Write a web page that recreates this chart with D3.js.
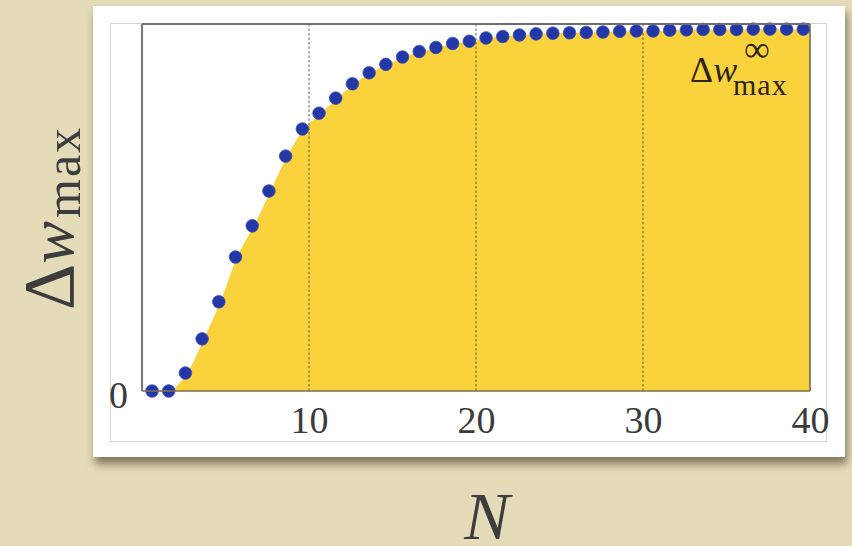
<!DOCTYPE html>
<html>
<head>
<meta charset="utf-8">
<script src="https://cdn.jsdelivr.net/npm/d3@7"></script>
<style>
  html, body { margin: 0; padding: 0; background: #e4dcb9; }
  svg { display: block; }
</style>
</head>
<body>
<svg id="chart" width="852" height="546"></svg>
<script>
// Number of sites N and the maximal gap Δw_max (in units of the large-N limit)
const sizes = [1, 2, 3, 4, 5, 6, 7, 8, 9, 10,
               11, 12, 13, 14, 15, 16, 17, 18, 19, 20,
               21, 22, 23, 24, 25, 26, 27, 28, 29, 30,
               31, 32, 33, 34, 35, 36, 37, 38, 39, 40];
const deltaW = [0.000, 0.000, 0.049, 0.142, 0.243, 0.365, 0.450, 0.545, 0.640, 0.714,
                0.757, 0.798, 0.837, 0.867, 0.890, 0.910, 0.925, 0.936, 0.947, 0.953,
                0.962, 0.966, 0.970, 0.973, 0.975, 0.976, 0.977, 0.978, 0.980, 0.981,
                0.981, 0.983, 0.984, 0.985, 0.985, 0.985, 0.986, 0.986, 0.986, 0.986];
const xTicks = [10, 20, 30, 40];
const yTicks = [0];

const points = sizes.map((n, i) => ({ n, v: deltaW[i] }));
const serif = "'Liberation Serif', 'Times New Roman', serif";

const svg = d3.select("#chart");
const defs = svg.append("defs");

// soft shadow under the card
const shadow = defs.append("filter").attr("id", "cardShadow")
  .attr("x", "-5%").attr("y", "-5%").attr("width", "112%").attr("height", "120%");
shadow.append("feDropShadow")
  .attr("dx", 2).attr("dy", 7).attr("stdDeviation", 4)
  .attr("flood-color", "#3b3320").attr("flood-opacity", 0.6);

// background
svg.append("rect").attr("width", 852).attr("height", 546).attr("fill", "#e4dcb9");

// white card
svg.append("rect")
  .attr("x", 93).attr("y", 6).attr("width", 752).attr("height", 451)
  .attr("fill", "#ffffff").attr("filter", "url(#cardShadow)");
svg.append("rect")
  .attr("x", 110.5).attr("y", 23.5).attr("width", 716).attr("height", 418)
  .attr("fill", "none").attr("stroke", "#d4d4d4").attr("stroke-width", 1);

// plot area
const plotL = 142, plotR = 810, plotT = 24, plotB = 391;
const x = d3.scaleLinear().domain([0, 40]).range([plotL, plotR]);
const y = d3.scaleLinear().domain([0, 1]).range([plotB, plotT]);
// markers and shaded curve sit slightly left of their grid position
const markerShift = 0.4;
const fillShift = 0.3;

const plot = svg.append("g");

// filled region under the curve through the points, closed at the right frame
const area = d3.area()
  .x(d => d.n === 40 ? plotR : x(d.n - fillShift))
  .y0(y(0))
  .y1(d => y(d.v))
  .curve(d3.curveCatmullRom.alpha(0.5));
plot.append("path")
  .datum(points)
  .attr("d", area)
  .attr("fill", "#fad23c");

// dashed vertical grid lines
plot.selectAll("line.grid")
  .data(xTicks.filter(t => t < 40))
  .join("line")
  .attr("class", "grid")
  .attr("x1", d => x(d)).attr("x2", d => x(d))
  .attr("y1", plotT).attr("y2", plotB)
  .attr("stroke", "#5a5232").attr("stroke-opacity", 0.75)
  .attr("stroke-width", 1.2)
  .attr("stroke-dasharray", "2.5,2");

// data points
plot.selectAll("circle.pt")
  .data(points)
  .join("circle")
  .attr("class", "pt")
  .attr("cx", d => x(d.n - markerShift))
  .attr("cy", d => y(d.v))
  .attr("r", 6.3)
  .attr("fill", "#2338a6")
  .attr("stroke", "#3a4fb8").attr("stroke-width", 0.8);

// frame
plot.append("line").attr("x1", plotL).attr("x2", plotR).attr("y1", plotT).attr("y2", plotT)
  .attr("stroke", "#6e6e6e").attr("stroke-width", 2);
plot.append("line").attr("x1", plotR).attr("x2", plotR).attr("y1", plotT).attr("y2", plotB)
  .attr("stroke", "#6e6a5a").attr("stroke-width", 1.6);
plot.append("line").attr("x1", plotL).attr("x2", plotR).attr("y1", plotB).attr("y2", plotB)
  .attr("stroke", "#7a7050").attr("stroke-width", 1.6);
plot.append("line").attr("x1", plotL).attr("x2", plotL).attr("y1", plotT).attr("y2", plotB)
  .attr("stroke", "#7a7a7a").attr("stroke-width", 2.2);

// axes (labels only)
const xAxis = svg.append("g")
  .attr("transform", `translate(0,${plotB})`)
  .call(d3.axisBottom(x).tickValues(xTicks).tickSize(0).tickPadding(0).tickFormat(d3.format("d")));
xAxis.select(".domain").remove();
xAxis.selectAll("text")
  .attr("y", 42).attr("dy", null)
  .attr("font-family", serif)
  .attr("font-size", 38)
  .attr("fill", "#3a3a3a");

const yAxis = svg.append("g")
  .attr("transform", `translate(${plotL},0)`)
  .call(d3.axisLeft(y).tickValues(yTicks).tickSize(0).tickPadding(0).tickFormat(d3.format("d")));
yAxis.select(".domain").remove();
yAxis.selectAll("text")
  .attr("x", -14).attr("dy", null).attr("y", 16)
  .attr("font-family", serif)
  .attr("font-size", 38)
  .attr("fill", "#3a3a3a");

// asymptote label inside the plot
const lab = svg.append("g").attr("font-family", serif).attr("fill", "#2e2510");
const main = lab.append("text").attr("x", 690).attr("y", 82).attr("font-size", 36);
main.append("tspan").text("Δ");
main.append("tspan").attr("font-style", "italic").text("w");
lab.append("text").attr("x", 744).attr("y", 61).attr("font-size", 36).text("∞");
lab.append("text").attr("x", 733).attr("y", 95).attr("font-size", 30).attr("letter-spacing", 1).text("max");

// axis titles
const yt = svg.append("text")
  .attr("transform", "translate(73,310) rotate(-90)")
  .attr("font-family", serif)
  .attr("fill", "#3d3d3d");
yt.append("tspan").attr("font-size", 72).text("Δ");
yt.append("tspan").attr("font-size", 64).attr("font-style", "italic").text("w");
yt.append("tspan").attr("font-size", 50).attr("dy", 7).attr("dx", 3).attr("letter-spacing", 2).text("max");

svg.append("text")
  .attr("x", 487).attr("y", 539)
  .attr("text-anchor", "middle")
  .attr("font-family", serif)
  .attr("font-style", "italic")
  .attr("font-size", 68)
  .attr("fill", "#3d3d3d")
  .text("N");
</script>
</body>
</html>
